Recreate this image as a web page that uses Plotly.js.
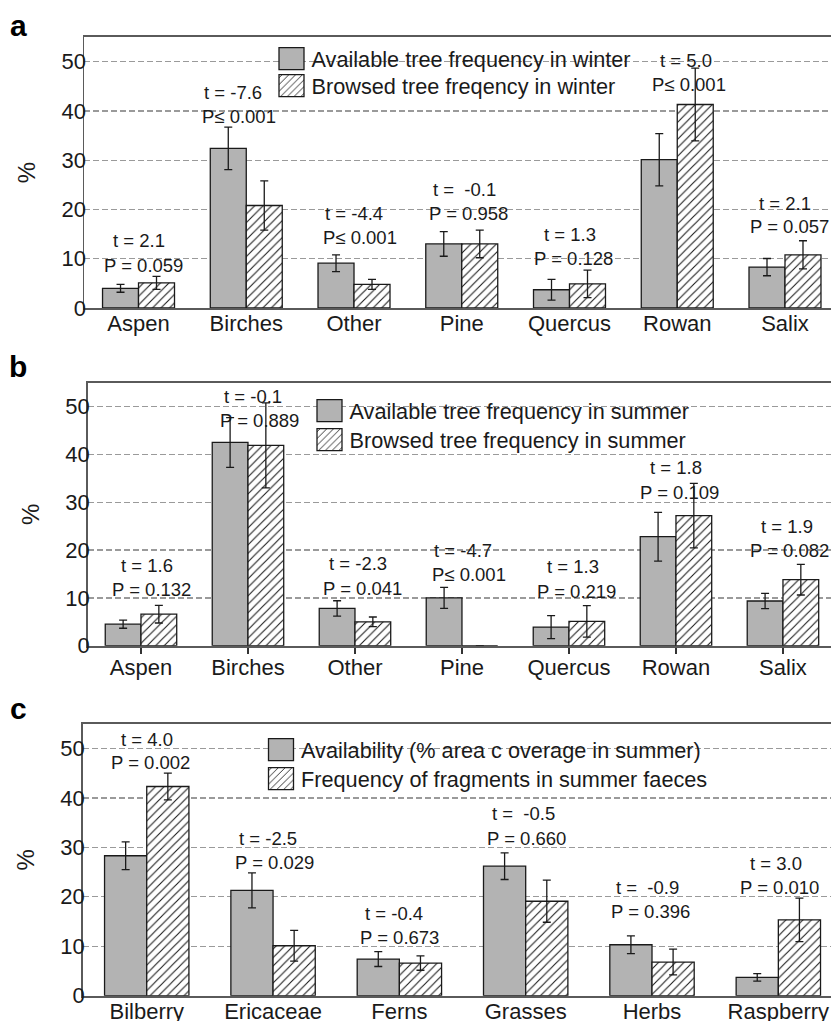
<!DOCTYPE html>
<html><head><meta charset="utf-8">
<script src="https://cdn.plot.ly/plotly-3.0.1.min.js"></script>
<style>html,body{margin:0;padding:0;background:#fff}#chart{width:831px;height:1021px}</style>
</head><body><div id="chart"></div>
<script>
// ---------- data ----------
const treeCats = ['Aspen', 'Birches', 'Other', 'Pine', 'Quercus', 'Rowan', 'Salix'];
const plantCats = ['Bilberry', 'Ericaceae', 'Ferns', 'Grasses', 'Herbs', 'Raspberry'];

const winterAvail = [4.0, 32.4, 9.1, 13.0, 3.7, 30.1, 8.3];
const winterAvailErr = [0.8, 4.3, 1.7, 2.5, 2.1, 5.3, 1.75];
const winterBrowsed = [5.1, 20.8, 4.8, 13.0, 4.9, 41.3, 10.8];
const winterBrowsedErr = [1.3, 5.0, 1.0, 2.8, 2.8, 7.4, 2.85];
const winterT = ['t = 2.1', 't = -7.6', 't = -4.4', 't =  -0.1', 't = 1.3', 't = 5.0', 't = 2.1'];
const winterP = ['P = 0.059', 'P\u2264 0.001', 'P\u2264 0.001', 'P = 0.958', 'P = 0.128', 'P\u2264 0.001', 'P = 0.057'];

const summerAvail = [4.5, 42.5, 7.8, 10.0, 3.9, 22.8, 9.35];
const summerAvailErr = [0.85, 5.2, 1.6, 2.2, 2.4, 5.1, 1.6];
const summerBrowsed = [6.6, 41.9, 5.0, 0, 5.1, 27.2, 13.8];
const summerBrowsedErr = [1.85, 8.9, 1.0, 0, 3.3, 6.75, 3.2];
const summerT = ['t = 1.6', 't = -0.1', 't = -2.3', 't = -4.7', 't = 1.3', 't = 1.8', 't = 1.9'];
const summerP = ['P = 0.132', 'P = 0.889', 'P = 0.041', 'P\u2264 0.001', 'P = 0.219', 'P = 0.109', 'P = 0.082'];

const plantAvail = [28.3, 21.3, 7.4, 26.2, 10.3, 3.7];
const plantAvailErr = [2.8, 3.55, 1.5, 2.7, 1.8, 0.75];
const plantFaeces = [42.3, 10.1, 6.6, 19.1, 6.8, 15.35];
const plantFaecesErr = [2.7, 3.1, 1.45, 4.25, 2.6, 4.4];
const plantT = ['t = 4.0', 't = -2.5', 't = -0.4', 't =  -0.5', 't =  -0.9', 't = 3.0'];
const plantP = ['P = 0.002', 'P = 0.029', 'P = 0.673', 'P = 0.660', 'P = 0.396', 'P = 0.010'];

const legendNames = [
  ['Available tree frequency in winter', 'Browsed tree freqency in winter'],
  ['Available tree frequency in summer', 'Browsed tree frequency in summer'],
  ['Availability (% area c overage in summer)', 'Frequency of fragments in summer faeces']
];

// ---------- layout config (label placement) ----------
const panelCfg = [
  {tY: [13.7, 43.7, 19.1, 24.0, 15.0, 50.2, 21.3], pY: [8.7, 38.9, 14.4, 19.2, 10.1, 45.3, 16.5],
   tdx: [0, -13, 0, 3, 0, 9, 0], pdx: [5, -7, 6, 7, 4, 12, 5]},
  {tY: [16.7, 52.1, 17.2, 20.0, 16.5, 37.3, 24.9], pY: [11.65, 47.1, 12.0, 14.8, 11.3, 32.1, 20.0],
   tdx: [6, 5, 3, 1, 4, 0, 4], pdx: [11, 12, 8, 7, 8, 4, 7]},
  {tY: [51.9, 31.8, 16.7, 36.8, 21.8, 26.7], pY: [47.1, 27.0, 11.8, 31.8, 17.0, 21.8],
   tdx: [0, -5, -5, -2, -5, -2.5], pdx: [4, 1, 0, 1, -1.5, 1]}
];

const W = 831, H = 1021;
const FONT = 'Liberation Sans, Arial, Helvetica, sans-serif';
const INK = '#1a1a1a';

const panels = [
  {cats: treeCats, a: winterAvail, ae: winterAvailErr, b: winterBrowsed, be: winterBrowsedErr, T: winterT, P: winterP},
  {cats: treeCats, a: summerAvail, ae: summerAvailErr, b: summerBrowsed, be: summerBrowsedErr, T: summerT, P: summerP},
  {cats: plantCats, a: plantAvail, ae: plantAvailErr, b: plantFaeces, be: plantFaecesErr, T: plantT, P: plantP}
];

// pixel geometry of the three plot areas
const geom = [
  {left: 84, top: 37, bottom: 308, xr: [-0.506, 6.427], ticks: ''},
  {left: 87.7, top: 382.7, bottom: 645.7, xr: [-0.498, 6.449], ticks: 'outside'},
  {left: 82.7, top: 723.7, bottom: 995.7, xr: [-0.507, 5.417], ticks: ''}
];
// legend swatch centre x, item centre y (px) for the two entries of each panel
const legendPos = [{x: 291.5, y: [58, 85]}, {x: 329.5, y: [410, 439]}, {x: 281, y: [749, 778]}];
const letterPos = [{t: 'a', y: 25}, {t: 'b', y: 366}, {t: 'c', y: 708}];

const errStyle = {type: 'data', visible: true, color: '#1a1a1a', thickness: 1.3, width: 4};
const traces = [];
const layout = {
  width: W, height: H,
  margin: {l: 0, r: 0, t: 0, b: 0},
  paper_bgcolor: '#fff', plot_bgcolor: '#fff',
  font: {family: FONT, color: INK, size: 18},
  barmode: 'group', bargap: 0.332, bargroupgap: 0,
  annotations: [], showlegend: true
};

function legendId(n) { return n === 1 ? 'legend' : 'legend' + n; }

panels.forEach((p, i) => {
  const s = i === 0 ? '' : String(i + 1);
  const g = geom[i];
  const lgA = legendId(i * 2 + 1), lgB = legendId(i * 2 + 2);
  traces.push({
    type: 'bar', x: p.cats, y: p.a, name: legendNames[i][0],
    xaxis: 'x' + s, yaxis: 'y' + s, legend: lgA,
    marker: {color: '#b3b3b3', line: {color: '#1a1a1a', width: 1.3}},
    error_y: Object.assign({array: p.ae}, errStyle)
  });
  traces.push({
    type: 'bar', x: p.cats, y: p.b, name: legendNames[i][1],
    xaxis: 'x' + s, yaxis: 'y' + s, legend: lgB,
    marker: {color: '#ffffff', line: {color: '#1a1a1a', width: 1.3},
             pattern: {shape: '/', fgcolor: '#1a1a1a', bgcolor: '#ffffff', size: 6, solidity: 0.18}},
    error_y: Object.assign({array: p.be}, errStyle)
  });
  layout['xaxis' + s] = {
    domain: [g.left / W, 1], range: g.xr, anchor: 'y' + s, type: 'category',
    showline: true, mirror: true, linecolor: '#5a5a5a', linewidth: 2,
    ticks: g.ticks, ticklen: 6, tickcolor: '#333', tickwidth: 1.3, ticklabelstandoff: -5,
    tickfont: {size: 22, color: INK}, showgrid: false, fixedrange: true
  };
  layout['yaxis' + s] = {
    domain: [1 - g.bottom / H, 1 - g.top / H], range: [0, 55], anchor: 'x' + s,
    tickvals: [0, 10, 20, 30, 40, 50], ticks: '', ticklabelstandoff: -8,
    showline: true, linecolor: '#5a5a5a', linewidth: 1.5,
    showgrid: true, gridcolor: '#9a9a9a', gridwidth: 1.3, griddash: '6px,3px',
    zeroline: false, tickfont: {size: 22, color: INK},
    title: {text: '%', font: {size: 24, color: INK}, standoff: 19}, fixedrange: true
  };
  [lgA, lgB].forEach((lg, j) => {
    layout[lg] = {
      x: (legendPos[i].x - 20) / W, y: 1 - (legendPos[i].y[j] - 20) / H,
      xanchor: 'left', yanchor: 'top', bgcolor: 'rgba(0,0,0,0)', borderwidth: 0,
      font: {size: 21.7, color: INK}
    };
  });
  const cfg = panelCfg[i];
  p.cats.forEach((c, k) => {
    layout.annotations.push({
      xref: 'x' + s, yref: 'y' + s, x: k, y: cfg.tY[k], text: p.T[k], showarrow: false,
      xshift: cfg.tdx[k], font: {size: 18.5, color: INK}
    });
    layout.annotations.push({
      xref: 'x' + s, yref: 'y' + s, x: k, y: cfg.pY[k], text: p.P[k], showarrow: false,
      xshift: cfg.pdx[k], font: {size: 18.5, color: INK}
    });
  });
  layout.annotations.push({
    xref: 'paper', yref: 'paper', x: 18 / W, y: 1 - letterPos[i].y / H,
    xanchor: 'center', yanchor: 'middle',
    text: letterPos[i].t, showarrow: false,
    font: {size: 30, color: '#000', weight: 'bold'}
  });
});

Plotly.newPlot('chart', traces, layout, {staticPlot: true, displayModeBar: false}).then(() => {
  document.querySelectorAll('.legendpoints path').forEach(el => {
    el.setAttribute('d', 'M12.5,11H-12.5V-11H12.5Z');
  });
});
</script></body></html>
